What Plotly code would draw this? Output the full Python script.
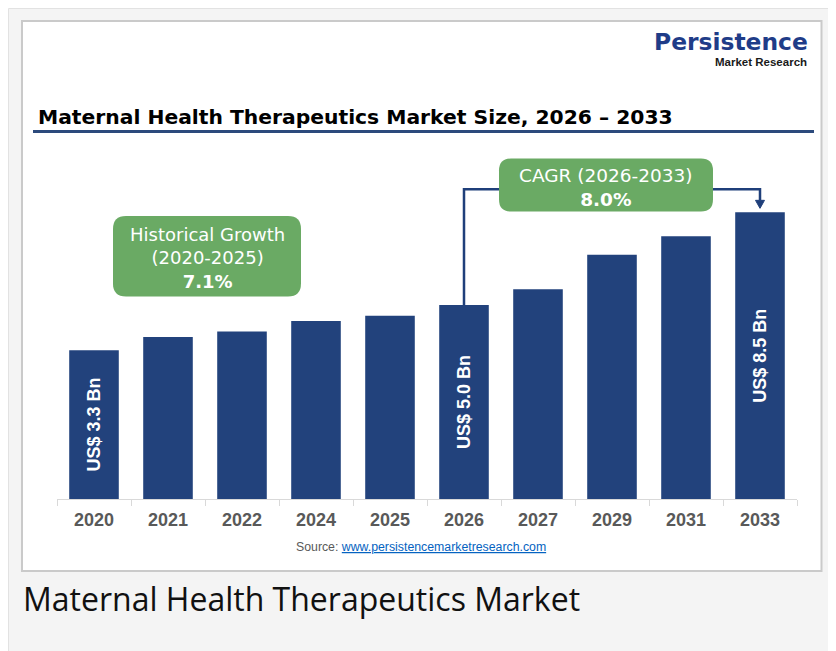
import plotly.graph_objects as go

# ---------------- data ----------------
years = ['2020', '2021', '2022', '2024', '2025', '2026', '2027', '2029', '2031', '2033']
market_size = [3.3, 3.8, 4.0, 4.4, 4.6, 5.0, 5.6, 6.9, 7.6, 8.5]   # US$ Bn
labelled_years = ['2020', '2026', '2033']
hist_label = ['Historical Growth', '(2020-2025)']
hist_cagr = 7.1
fc_label = 'CAGR (2026-2033)'
fc_cagr = 8.0
title_text = 'Maternal Health Therapeutics Market Size, 2026 – 2033'
caption_text = 'Maternal Health Therapeutics Market'

# ---------------- layout geometry ----------------
OFF = 8                      # page body margin
W, H = 828, 643              # figure size
L, R, T, B = 49, 39, 142, 152
PW, PH = W - L - R, H - T - B
Y_MIN = -2.316
PER_PX = 0.03773
Y_MAX = Y_MIN + PH * PER_PX

def px_x(px):               # window pixel -> paper
    return (px - OFF - L) / PW

def px_y(py):
    return (H - B - (py - OFF)) / PH

def xc(year):
    return (years.index(year) + 0.5) / len(years)

def yv(v):
    return (v - Y_MIN) / (Y_MAX - Y_MIN)

NAVY = '#22427c'
GREEN = '#6aaa64'
FONT = 'Liberation Sans, Arial, sans-serif'
WIDE = 'DejaVu Sans, sans-serif'

texts = ['<b>US$ %.1f Bn</b>' % v if y in labelled_years else '' for y, v in zip(years, market_size)]

fig = go.Figure()
fig.add_trace(go.Bar(
    x=years,
    y=[v - Y_MIN for v in market_size],
    base=Y_MIN,
    marker=dict(color=NAVY, line=dict(width=0)),
    text=texts,
    textposition='inside',
    insidetextanchor='middle',
    textangle=-90,
    constraintext='none',
    insidetextfont=dict(color='white', size=18, family=FONT),
    hoverinfo='skip',
))

def rrect(x0, y0, x1, y1, r):
    def P(x, y):
        return '%.5f,%.5f' % (px_x(x), px_y(y))
    return ('M ' + P(x0 + r, y0) + ' L ' + P(x1 - r, y0) +
            ' Q ' + P(x1, y0) + ' ' + P(x1, y0 + r) +
            ' L ' + P(x1, y1 - r) +
            ' Q ' + P(x1, y1) + ' ' + P(x1 - r, y1) +
            ' L ' + P(x0 + r, y1) +
            ' Q ' + P(x0, y1) + ' ' + P(x0, y1 - r) +
            ' L ' + P(x0, y0 + r) +
            ' Q ' + P(x0, y0) + ' ' + P(x0 + r, y0) + ' Z')

shapes = []
# outer page panel
shapes.append(dict(type='rect', xref='paper', yref='paper', layer='below',
                   x0=px_x(8.5), x1=px_x(834.5), y0=px_y(8.5), y1=px_y(700),
                   fillcolor='#f4f4f4', line=dict(color='#e2e2e2', width=1)))
# inner white image
shapes.append(dict(type='rect', xref='paper', yref='paper', layer='below',
                   x0=px_x(22), x1=px_x(821.5), y0=px_y(21), y1=px_y(571),
                   fillcolor='white', line=dict(color='#cacaca', width=2)))
# title underline
shapes.append(dict(type='line', xref='paper', yref='paper',
                   x0=px_x(33), x1=px_x(814), y0=px_y(131.5), y1=px_y(131.5),
                   line=dict(color='#2c4a7c', width=3)))
# connector
LEVEL = px_y(189.3)
tip = yv(market_size[-1]) + 4 / PH
head_h = 8 / PH
shapes.append(dict(type='path', xref='paper', yref='paper',
                   path='M %.5f,%.5f L %.5f,%.5f L %.5f,%.5f L %.5f,%.5f' % (
                       xc('2026'), yv(market_size[years.index('2026')]),
                       xc('2026'), LEVEL,
                       xc('2033'), LEVEL,
                       xc('2033'), tip + head_h),
                   line=dict(color='#1f3f7a', width=2.5)))
shapes.append(dict(type='path', xref='paper', yref='paper',
                   path='M %.5f,%.5f L %.5f,%.5f L %.5f,%.5f Z' % (
                       xc('2033') - 4.5 / PW, tip + head_h,
                       xc('2033') + 4.5 / PW, tip + head_h,
                       xc('2033'), tip),
                   fillcolor='#1f3f7a', line=dict(color='#1f3f7a', width=1)))
# green boxes
shapes.append(dict(type='path', xref='paper', yref='paper', path=rrect(113, 216, 301, 296.5, 13),
                   fillcolor=GREEN, line=dict(width=0)))
shapes.append(dict(type='path', xref='paper', yref='paper', path=rrect(499, 158.5, 713, 211.5, 12),
                   fillcolor=GREEN, line=dict(width=0)))

annotations = []
def ann(text, px, py, size, color, family=FONT, xanchor='center', yanchor='middle', align='center'):
    annotations.append(dict(text=text, x=px_x(px), y=px_y(py), xref='paper', yref='paper',
                            showarrow=False, xanchor=xanchor, yanchor=yanchor, align=align,
                            font=dict(size=size, color=color, family=family)))

ann('<b>' + title_text + '</b>', 36, 116.5, 20.3, '#000000', family=WIDE, xanchor='left')
ann('<b>Persistence</b>', 810, 41.5, 23.4, '#1f3c88', family=WIDE, xanchor='right')
ann('<b>Market Research</b>', 809, 62.5, 11.5, '#1a1a1a', xanchor='right')
ann('<br>'.join(hist_label) + '<br><b>%.1f%%</b>' % hist_cagr, 207, 257.5, 18, 'white', family=WIDE)
ann(fc_label + '<br><b>%.1f%%</b>' % fc_cagr, 606, 187.5, 18.5, 'white', family=WIDE)
ann('Source: <span style="color:#0563c1;text-decoration:underline">www.persistencemarketresearch.com</span>',
    420.5, 547, 12.3, '#595959')
ann(caption_text, 21, 598.5, 32, '#111111', family='Open Sans, sans-serif', xanchor='left')

fig.update_layout(
    width=W, height=H, autosize=False,
    margin=dict(l=L, r=R, t=T, b=B, pad=0),
    paper_bgcolor='white', plot_bgcolor='rgba(0,0,0,0)',
    bargap=0.33, showlegend=False,
    shapes=shapes, annotations=annotations,
    xaxis=dict(type='category', categoryarray=years, categoryorder='array',
               showline=True, linecolor='#d9d9d9', linewidth=1,
               ticks='outside', tickson='boundaries', ticklen=6, tickcolor='#d9d9d9',
               ticklabelstandoff=4,
               showgrid=False, zeroline=False,
               tickfont=dict(family=FONT, size=18, color='#595959'),
               tickprefix='<b>', ticksuffix='</b>', fixedrange=True),
    yaxis=dict(range=[Y_MIN, Y_MAX], visible=False, showgrid=False, zeroline=False, fixedrange=True),
)

fig.write_html('out.html')
